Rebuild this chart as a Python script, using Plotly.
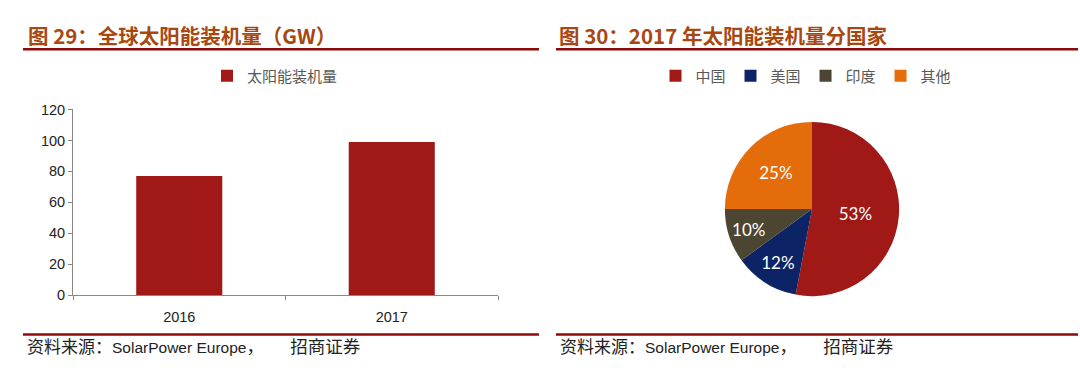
import plotly.graph_objects as go

# ---- data ----
years = ["2016", "2017"]
installs_gw = [77, 99]
bar_series_name = "太阳能装机量"

countries = ["中国", "美国", "印度", "其他"]
shares = [53, 12, 10, 25]

y_ticks = [0, 20, 40, 60, 80, 100, 120]

title_left = "图 29：全球太阳能装机量（GW）"
title_right = "图 30：2017 年太阳能装机量分国家"
source_cn_head = "资料来源："
source_en = "SolarPower Europe"
source_cn_tail = "，招商证券"

# ---- styles ----
W, H = 1080, 375
bar_color = "#A11916"
pie_colors = ["#A11916", "#0C2466", "#4B4531", "#E46C0A"]
title_color = "#A8470F"
rule_color = "#8E0A0A"
cjk = "Noto Sans CJK SC"
latin = "Liberation Sans, Arial, " + cjk


def px(x):
    return x / W


def py(y):
    return (H - y) / H


fig = go.Figure()

fig.add_trace(go.Bar(
    x=years, y=installs_gw, name=bar_series_name,
    marker=dict(color=bar_color, line=dict(width=0)),
    width=0.405, legend="legend", showlegend=True,
))

fig.add_trace(go.Pie(
    labels=countries, values=shares,
    marker=dict(colors=pie_colors, line=dict(width=0)),
    sort=False, direction="clockwise", rotation=0,
    textinfo="percent", texttemplate="%{percent:.0%}",
    textposition="inside", insidetextorientation="horizontal",
    textfont=dict(color="white", size=17, family="Lato, Liberation Sans"),
    domain=dict(x=[px(721), px(903)], y=[py(301), py(119)]),
    legend="legend2", showlegend=True, hoverinfo="skip",
))

fig.update_layout(
    width=W, height=H,
    margin=dict(l=0, r=0, t=0, b=0),
    paper_bgcolor="white", plot_bgcolor="white",
    xaxis=dict(
        domain=[px(73), px(498)], showgrid=False, showline=True,
        linecolor="#888888", linewidth=1, ticks="outside", tickson="boundaries",
        ticklen=4, tickcolor="#888888", ticklabelstandoff=8,
        tickfont=dict(family=latin, size=14.5, color="#222222"),
    ),
    yaxis=dict(
        domain=[py(300), py(106)], range=[0, 120], tickvals=y_ticks,
        showgrid=False, showline=True, linecolor="#888888", linewidth=1,
        ticks="outside", ticklen=4, tickcolor="#888888", zeroline=False,
        tickfont=dict(family=latin, size=14.5, color="#222222"),
    ),
    legend=dict(
        orientation="h", x=px(207), xanchor="left", y=py(71), yanchor="middle",
        font=dict(family=cjk, size=15, color="#595959"),
        itemwidth=30, bgcolor="rgba(0,0,0,0)",
    ),
    legend2=dict(
        orientation="h", x=px(806), xanchor="center", y=py(71), yanchor="middle",
        font=dict(family=cjk, size=15, color="#595959"),
        itemwidth=30, bgcolor="rgba(0,0,0,0)", traceorder="normal",
    ),
    showlegend=True,
)

# titles
for txt, x0 in ((title_left, 26), (title_right, 557)):
    fig.add_annotation(text="<b>" + txt + "</b>", xref="paper", yref="paper",
                       x=px(x0), y=py(28), xanchor="left", yanchor="middle", showarrow=False,
                       font=dict(family=cjk, size=20.5, color=title_color))

# sources
source_html = ('<span style="font-size:17px">' + source_cn_head + '</span>' + source_en +
               '<span style="font-size:17.5px">' + source_cn_tail[0] + '\u3000\u3000' + source_cn_tail[1:] + '</span>')
for x0 in (25, 558):
    fig.add_annotation(text=source_html, xref="paper", yref="paper",
                       x=px(x0), y=py(354), xanchor="left", yanchor="middle", showarrow=False,
                       font=dict(family="Liberation Sans, Arial, " + cjk, size=15.5, color="#222222"))

# rules
for (x0, x1) in ((23, 539), (556, 1078)):
    for yy in (43, 341):
        fig.add_shape(type="line", xref="paper", yref="paper",
                      x0=px(x0), x1=px(x1), y0=py(yy), y1=py(yy),
                      line=dict(color=rule_color, width=2.5))

fig.write_html("out.html")
